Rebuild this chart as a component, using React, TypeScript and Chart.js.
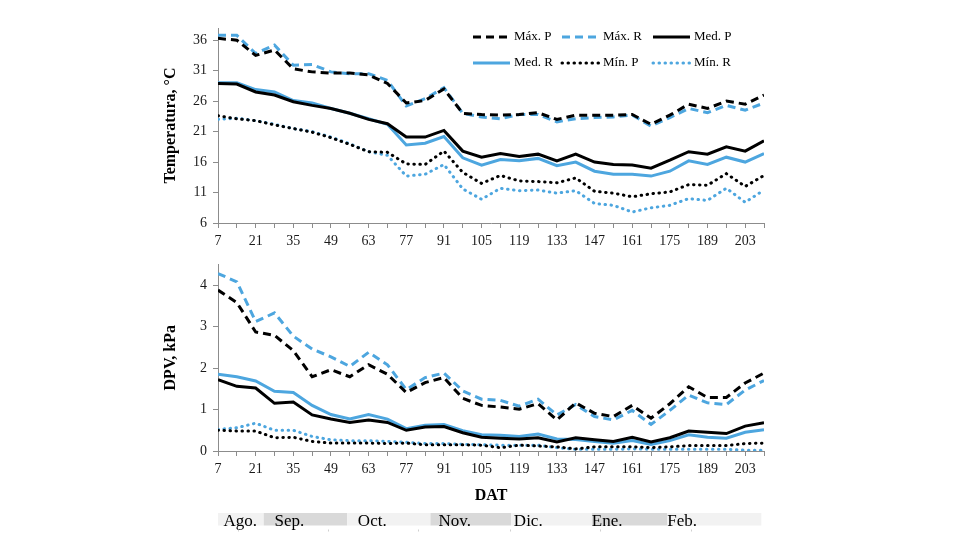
import React, { useEffect, useRef } from 'react';
import { Chart, registerables } from 'chart.js';

Chart.register(...registerables);

const DAT = [7, 14, 21, 28, 35, 42, 49, 56, 63, 70, 77, 84, 91, 98, 105, 112, 119, 126, 133, 140, 147, 154, 161, 168, 175, 182, 189, 196, 203, 210];
const X_TICK_LABELS = [7, 21, 35, 49, 63, 77, 91, 105, 119, 133, 147, 161, 175, 189, 203];
const TEMP_TICKS = [6, 11, 16, 21, 26, 31, 36];
const DPV_TICKS = [0, 1, 2, 3, 4];

const tempMaxP = [36.3, 36.0, 33.5, 34.4, 31.3, 30.8, 30.6, 30.6, 30.3, 28.9, 25.7, 26.1, 28.0, 24.0, 23.8, 23.7, 23.8, 24.1, 23.0, 23.7, 23.7, 23.7, 23.8, 22.2, 23.7, 25.5, 24.8, 26.0, 25.5, 27.0];
const tempMaxR = [36.8, 36.8, 33.8, 35.2, 31.9, 32.0, 30.8, 30.5, 30.5, 29.4, 25.2, 26.4, 28.2, 24.0, 23.4, 23.1, 23.8, 23.8, 22.6, 23.1, 23.3, 23.4, 23.7, 21.9, 23.3, 24.8, 24.1, 25.3, 24.5, 25.7];
const tempMedP = [28.9, 28.8, 27.5, 27.0, 25.9, 25.3, 24.8, 24.0, 23.0, 22.3, 20.1, 20.1, 21.2, 17.8, 16.8, 17.4, 16.9, 17.3, 16.2, 17.3, 16.0, 15.6, 15.5, 15.0, 16.3, 17.7, 17.3, 18.5, 17.8, 19.5];
const tempMedR = [29.0, 29.0, 27.9, 27.5, 26.1, 25.7, 24.8, 24.0, 23.1, 22.2, 18.8, 19.1, 20.2, 16.7, 15.5, 16.4, 16.2, 16.6, 15.4, 16.0, 14.5, 14.0, 14.0, 13.7, 14.5, 16.2, 15.6, 16.8, 16.0, 17.4];
const tempMinP = [23.6, 23.1, 22.8, 22.1, 21.5, 20.9, 20.0, 18.9, 17.7, 17.6, 15.7, 15.6, 17.8, 14.3, 12.5, 13.8, 12.9, 12.8, 12.6, 13.4, 11.2, 10.9, 10.3, 10.8, 11.1, 12.3, 12.2, 14.1, 12.0, 13.8];
const tempMinR = [23.0, 23.2, 22.8, 22.2, 21.5, 21.0, 20.1, 19.0, 17.7, 17.1, 13.7, 14.0, 15.6, 11.6, 9.9, 11.7, 11.3, 11.4, 10.9, 11.3, 9.2, 8.9, 7.8, 8.5, 8.9, 10.0, 9.7, 11.7, 9.4, 11.4];

const dpvMaxP = [3.88, 3.58, 2.87, 2.79, 2.42, 1.79, 1.96, 1.79, 2.08, 1.85, 1.41, 1.65, 1.77, 1.27, 1.10, 1.06, 1.01, 1.14, 0.75, 1.16, 0.91, 0.83, 1.10, 0.79, 1.14, 1.55, 1.29, 1.29, 1.64, 1.88];
const dpvMaxR = [4.28, 4.08, 3.12, 3.33, 2.77, 2.46, 2.27, 2.04, 2.38, 2.08, 1.48, 1.77, 1.88, 1.45, 1.25, 1.22, 1.08, 1.25, 0.87, 1.12, 0.83, 0.75, 0.98, 0.64, 0.98, 1.35, 1.16, 1.12, 1.47, 1.70];
const dpvMedP = [1.72, 1.56, 1.52, 1.15, 1.18, 0.87, 0.77, 0.69, 0.75, 0.69, 0.50, 0.58, 0.59, 0.44, 0.33, 0.31, 0.29, 0.32, 0.22, 0.32, 0.27, 0.23, 0.33, 0.22, 0.32, 0.48, 0.45, 0.42, 0.60, 0.68];
const dpvMedR = [1.85, 1.79, 1.69, 1.44, 1.41, 1.10, 0.88, 0.77, 0.88, 0.77, 0.54, 0.62, 0.64, 0.49, 0.39, 0.38, 0.35, 0.41, 0.29, 0.28, 0.23, 0.19, 0.25, 0.16, 0.25, 0.39, 0.33, 0.31, 0.45, 0.51];
const dpvMinP = [0.50, 0.48, 0.48, 0.32, 0.33, 0.23, 0.19, 0.19, 0.19, 0.18, 0.19, 0.15, 0.15, 0.15, 0.14, 0.08, 0.14, 0.12, 0.10, 0.05, 0.10, 0.10, 0.10, 0.08, 0.10, 0.13, 0.13, 0.13, 0.18, 0.19];
const dpvMinR = [0.52, 0.56, 0.67, 0.50, 0.50, 0.35, 0.27, 0.25, 0.25, 0.23, 0.21, 0.18, 0.18, 0.16, 0.15, 0.14, 0.14, 0.14, 0.08, 0.04, 0.04, 0.04, 0.05, 0.04, 0.04, 0.04, 0.04, 0.04, 0.02, 0.02];

const SERIES_LABELS = ['Máx. P', 'Máx. R', 'Med. P', 'Med. R', 'Mín. P', 'Mín. R'];

const MONTHS = ['Ago.', 'Sep.', 'Oct.', 'Nov.', 'Dic.', 'Ene.', 'Feb.'];
const MONTH_START_DAT = [7, 24, 55, 86, 116, 146, 174];
const MONTH_END_DAT = 209;
const MONTH_LABEL_DAT = [9, 28, 59, 89, 117, 146, 174];

const FONT = 'Liberation Serif';
const BLACK = '#000000';
const BLUE = '#4DA6DF';
const AXIS = '#8c8c8c';

Chart.defaults.font.family = FONT;

function buildDatasets(series: number[][]) {
  const styles = [
    { color: BLACK, dash: [8, 5], cap: 'butt' },
    { color: BLUE, dash: [8, 5], cap: 'butt' },
    { color: BLACK, dash: [], cap: 'butt' },
    { color: BLUE, dash: [], cap: 'butt' },
    { color: BLACK, dash: [0.5, 5.5], cap: 'round' },
    { color: BLUE, dash: [0.5, 5.5], cap: 'round' },
  ];
  return series.map((vals, i) => ({
    label: SERIES_LABELS[i],
    data: vals.map((v, j) => ({ x: DAT[j], y: v })),
    borderColor: styles[i].color,
    backgroundColor: styles[i].color,
    borderDash: styles[i].dash,
    borderCapStyle: styles[i].cap,
    borderWidth: 3,
    pointRadius: 0,
    tension: 0,
    fill: false,
  }));
}

function xScale(height: number, title?: string) {
  return {
    type: 'linear',
    min: 7,
    max: 210,
    afterBuildTicks: (s: any) => {
      s.ticks = DAT.map((v) => ({ value: v }));
    },
    afterFit: (s: any) => {
      s.height = height;
    },
    ticks: {
      autoSkip: false,
      maxRotation: 0,
      padding: 5,
      color: '#1a1a1a',
      font: { size: 14, family: FONT },
      callback: (v: any) => (X_TICK_LABELS.includes(Number(v)) ? String(v) : ''),
    },
    grid: { drawOnChartArea: false, drawTicks: true, tickLength: 5, color: AXIS, tickColor: AXIS },
    border: { color: AXIS, width: 1 },
    title: title
      ? { display: true, text: title, color: '#000', font: { size: 16, weight: 'bold', family: FONT }, padding: { top: 4, bottom: 6 } }
      : { display: false },
  };
}

function yScale(min: number, max: number, ticks: number[], title: string) {
  return {
    type: 'linear',
    min,
    max,
    afterBuildTicks: (s: any) => {
      s.ticks = ticks.map((v) => ({ value: v }));
    },
    afterFit: (s: any) => {
      s.width = 61;
    },
    ticks: { padding: 6, color: '#1a1a1a', font: { size: 14, family: FONT } },
    grid: { drawOnChartArea: false, drawTicks: true, tickLength: 5, color: AXIS, tickColor: AXIS },
    border: { color: AXIS, width: 1 },
    title: { display: true, text: title, color: '#000', font: { size: 16, weight: 'bold', family: FONT }, padding: { top: 4, bottom: 4 } },
  };
}

const legendPlugin = {
  id: 'inlineLegend',
  afterDraw(chart: any) {
    const ctx = chart.ctx;
    const area = chart.chartArea;
    const cols = [area.left + 255, area.left + 344, area.left + 435];
    const rows = [area.top + 9, area.top + 35];
    chart.data.datasets.forEach((ds: any, i: number) => {
      const x = cols[i % 3];
      const y = rows[Math.floor(i / 3)];
      ctx.save();
      ctx.strokeStyle = ds.borderColor;
      ctx.lineWidth = ds.borderWidth;
      ctx.lineCap = ds.borderCapStyle || 'butt';
      ctx.setLineDash(ds.borderDash || []);
      ctx.beginPath();
      ctx.moveTo(x, y);
      ctx.lineTo(x + 37, y);
      ctx.stroke();
      ctx.setLineDash([]);
      ctx.fillStyle = '#000';
      ctx.font = `13px "${FONT}"`;
      ctx.textBaseline = 'middle';
      ctx.textAlign = 'left';
      ctx.fillText(ds.label, x + 41, y);
      ctx.restore();
    });
  },
};

const monthPlugin = {
  id: 'monthBar',
  afterDraw(chart: any) {
    const ctx = chart.ctx;
    const xs = chart.scales.x;
    const top = xs.bottom + 2;
    const h = 12.5;
    ctx.save();
    MONTHS.forEach((m, i) => {
      const x0 = xs.getPixelForValue(MONTH_START_DAT[i]);
      const x1 = xs.getPixelForValue(i + 1 < MONTHS.length ? MONTH_START_DAT[i + 1] : MONTH_END_DAT);
      ctx.fillStyle = i % 2 === 0 ? '#f2f2f2' : '#d9d9d9';
      ctx.fillRect(x0, top, x1 - x0, h);
    });
    ctx.fillStyle = '#000';
    ctx.font = `17px "${FONT}"`;
    ctx.textBaseline = 'alphabetic';
    ctx.textAlign = 'left';
    MONTHS.forEach((m, i) => {
      ctx.fillText(m, xs.getPixelForValue(MONTH_LABEL_DAT[i]), top + h);
    });
    ctx.fillStyle = '#d0d0d0';
    [14.4, 48, 81.5, 115.6, 149, 183].forEach((d) => {
      ctx.fillRect(Math.round(xs.getPixelForValue(d)), top + h + 4, 1, 2);
    });
    ctx.restore();
  },
};

function LineChart(props: { width: number; height: number; config: any }) {
  const ref = useRef<HTMLCanvasElement | null>(null);
  useEffect(() => {
    if (!ref.current) return;
    const chart = new Chart(ref.current, props.config);
    return () => chart.destroy();
  }, []);
  return <canvas ref={ref} width={props.width} height={props.height} style={{ display: 'block', width: props.width, height: props.height }} />;
}

export default function App() {
  const topConfig = {
    type: 'line',
    data: { datasets: buildDatasets([tempMaxP, tempMaxR, tempMedP, tempMedR, tempMinP, tempMinR]) },
    options: {
      responsive: false,
      animation: false,
      devicePixelRatio: 1,
      layout: { padding: { left: 157, right: 216, top: 28, bottom: 0 } },
      plugins: { legend: { display: false }, tooltip: { enabled: false } },
      scales: {
        x: xScale(27),
        y: yScale(6, 38, TEMP_TICKS, 'Temperatura, °C'),
      },
    },
    plugins: [legendPlugin],
  };
  const bottomConfig = {
    type: 'line',
    data: { datasets: buildDatasets([dpvMaxP, dpvMaxR, dpvMedP, dpvMedR, dpvMinP, dpvMinR]) },
    options: {
      responsive: false,
      animation: false,
      devicePixelRatio: 1,
      layout: { padding: { left: 157, right: 216, top: 6, bottom: 49 } },
      plugins: { legend: { display: false }, tooltip: { enabled: false } },
      scales: {
        x: xScale(60, 'DAT'),
        y: yScale(0, 4.5, DPV_TICKS, 'DPV, kPa'),
      },
    },
    plugins: [monthPlugin],
  };
  return (
    <div style={{ position: 'fixed', left: 0, top: 0, width: 980, height: 560, background: '#fff' }}>
      <div style={{ position: 'absolute', left: 0, top: 0 }}>
        <LineChart width={980} height={250} config={topConfig} />
      </div>
      <div style={{ position: 'absolute', left: 0, top: 250 }}>
        <LineChart width={980} height={310} config={bottomConfig} />
      </div>
    </div>
  );
}
